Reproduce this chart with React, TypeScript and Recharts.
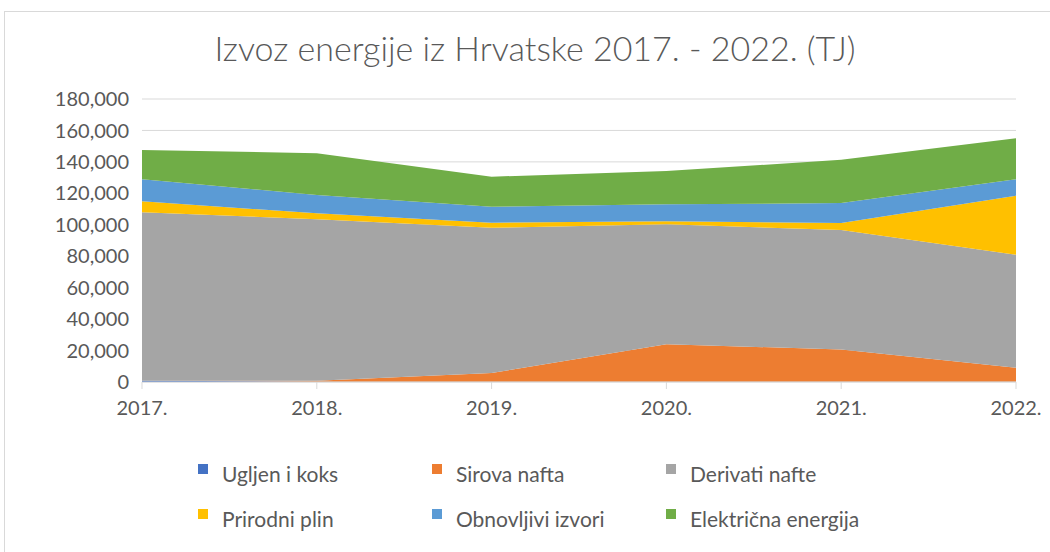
import { AreaChart, Area, XAxis, YAxis, CartesianGrid } from "recharts"

const years = ["2017.", "2018.", "2019.", "2020.", "2021.", "2022."]
const ugljen = [800, 200, 100, 100, 100, 100]
const sirovaNafta = [0, 600, 5600, 23900, 20600, 9000]
const derivatiNafte = [107200, 102700, 92400, 76300, 75900, 71800]
const prirodniPlin = [6900, 3800, 3200, 1900, 4500, 37500]
const obnovljivi = [14100, 11700, 10200, 10800, 12700, 10600]
const elektricna = [18600, 26500, 19100, 21200, 27500, 26100]
const yTicks = [0, 20000, 40000, 60000, 80000, 100000, 120000, 140000, 160000, 180000]

const series = [
  { key: "ugljen", name: "Ugljen i koks", color: "#4472C4" },
  { key: "sirova", name: "Sirova nafta", color: "#ED7D31" },
  { key: "derivati", name: "Derivati nafte", color: "#A5A5A5" },
  { key: "plin", name: "Prirodni plin", color: "#FFC000" },
  { key: "obnovljivi", name: "Obnovljivi izvori", color: "#5B9BD5" },
  { key: "elektricna", name: "Električna energija", color: "#70AD47" },
]

const data = years.map((year, i) => ({
  year,
  ugljen: ugljen[i],
  sirova: sirovaNafta[i],
  derivati: derivatiNafte[i],
  plin: prirodniPlin[i],
  obnovljivi: obnovljivi[i],
  elektricna: elektricna[i],
}))

const font = "Lato, 'Open Sans', sans-serif"
const textColor = "#595959"

function LegendGrid() {
  return (
    <div
      style={{
        display: "grid",
        gridTemplateColumns: "234px 234px 234px",
        rowGap: 19,
        fontFamily: font,
        fontSize: 21,
        color: textColor,
      }}
    >
      {series.map((s) => (
        <div key={s.key} style={{ display: "flex", alignItems: "center", height: 26 }}>
          <span
            style={{
              width: 10,
              height: 10,
              background: s.color,
              marginRight: 14,
              marginTop: -8,
              display: "inline-block",
            }}
          />
          <span>{s.name}</span>
        </div>
      ))}
    </div>
  )
}

export default function App() {
  return (
    <div style={{ position: "absolute", left: 0, top: 0, width: 1050, height: 552, background: "#fff", overflow: "hidden" }}>
      <div
        style={{
          position: "absolute",
          left: 4,
          top: 11,
          width: 1060,
          height: 560,
          border: "1px solid #d9d9d9",
        }}
      />
      <div
        style={{
          position: "absolute",
          left: 0,
          width: 1070,
          top: 27,
          textAlign: "center",
          fontFamily: font,
          fontWeight: 300,
          fontSize: 34,
          color: textColor,
        }}
      >
        Izvoz energije iz Hrvatske 2017. - 2022. (TJ)
      </div>
      <div style={{ position: "absolute", left: 0, top: 0 }}>
        <AreaChart width={1050} height={552} data={data} margin={{ top: 99, right: 34, bottom: 0, left: 0 }}>
          <CartesianGrid vertical={false} stroke="#d9d9d9" />
          <XAxis
            dataKey="year"
            stroke="#d9d9d9"
            tickSize={7}
            tickMargin={12}
            height={170}
            tick={{ fill: textColor, fontSize: 20, fontFamily: font }}
          />
          <YAxis
            width={142}
            domain={[0, 180000]}
            ticks={yTicks}
            axisLine={false}
            tickLine={false}
            tickSize={0}
            tickMargin={13}
            interval={0}
            tickFormatter={(v: number) => v.toLocaleString("en-US")}
            tick={{ fill: textColor, fontSize: 20, fontFamily: font }}
          />
          {series.map((s) => (
            <Area
              key={s.key}
              dataKey={s.key}
              name={s.name}
              stackId="1"
              type="linear"
              stroke="none"
              fill={s.color}
              fillOpacity={1}
              isAnimationActive={false}
            />
          ))}
        </AreaChart>
      </div>
      <div style={{ position: "absolute", left: 198, top: 460 }}>
        <LegendGrid />
      </div>
    </div>
  )
}
